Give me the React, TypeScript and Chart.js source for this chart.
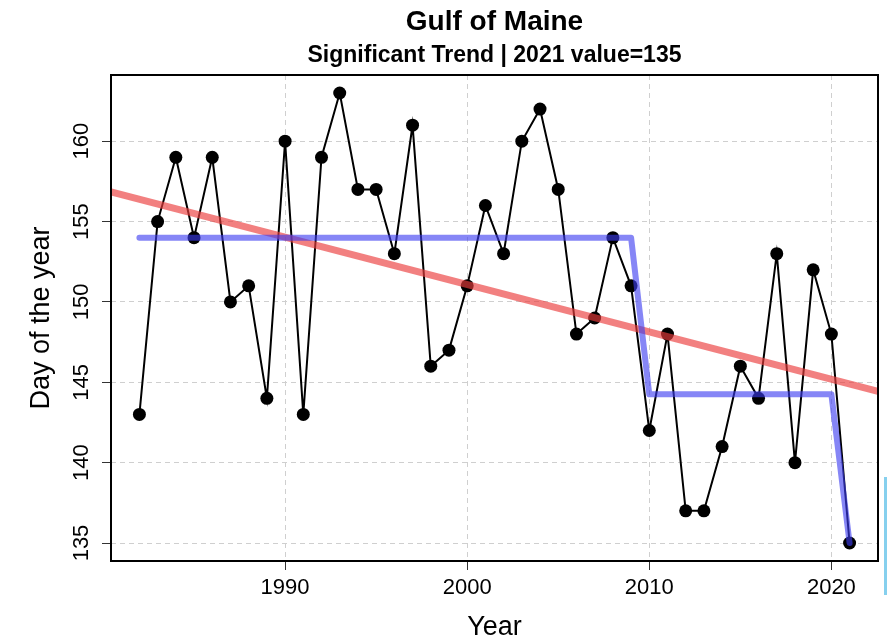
import React, { useEffect, useRef } from "react";
import { Chart, registerables } from "chart.js";

Chart.register(...registerables);

// ---- Data ----
const years = [
  1982, 1983, 1984, 1985, 1986, 1987, 1988, 1989, 1990, 1991,
  1992, 1993, 1994, 1995, 1996, 1997, 1998, 1999, 2000, 2001,
  2002, 2003, 2004, 2005, 2006, 2007, 2008, 2009, 2010, 2011,
  2012, 2013, 2014, 2015, 2016, 2017, 2018, 2019, 2020, 2021,
];
const dayOfYear = [
  143, 155, 159, 154, 159, 150, 151, 144, 160, 143,
  159, 163, 157, 157, 153, 161, 146, 147, 151, 156,
  153, 160, 162, 157, 148, 149, 154, 151, 142, 148,
  137, 137, 141, 146, 144, 153, 140, 152, 148, 135,
];
// regime (step) means
const stepYears = [1982, 2009, 2010, 2020, 2021];
const stepValues = [154, 154, 144.25, 144.25, 135];
// linear trend line, value at each edge of the plot
const trendYears = [1980.44, 2022.56];
const trendValues = [156.84, 144.44];

const xTicks = [1990, 2000, 2010, 2020];
const yTicks = [135, 140, 145, 150, 155, 160];
const xMin = 1980.44;
const xMax = 2022.56;
const yMin = 133.88;
const yMax = 164.12;

const titleText = "Gulf of Maine";
const subtitleText = "Significant Trend | 2021 value=135";
const xTitle = "Year";
const yTitle = "Day of the year";

const FONT = "'Liberation Sans', Arial, Helvetica, sans-serif";

const framePlugin = {
  id: "frame",
  afterDraw(chart: any) {
    const { ctx, chartArea } = chart;
    const { left, top, right, bottom } = chartArea;
    ctx.save();
    ctx.strokeStyle = "#000";
    ctx.lineWidth = 2;
    ctx.strokeRect(left, top, right - left, bottom - top);
    ctx.restore();
  },
};

export default function App() {
  const ref = useRef<HTMLCanvasElement | null>(null);

  useEffect(() => {
    if (!ref.current) return;
    const gridOpts = {
      color: "#cfcfcf",
      lineWidth: 1,
      tickLength: 9,
      tickColor: "#333",
      tickWidth: 1,
    };
    const chart = new Chart(ref.current, {
      type: "line",
      data: {
        datasets: [
          {
            label: "step",
            data: stepYears.map((x, i) => ({ x, y: stepValues[i] })),
            borderColor: "rgba(60,60,240,0.62)",
            borderWidth: 6,
            borderCapStyle: "round",
            borderJoinStyle: "round",
            pointRadius: 0,
            tension: 0,
            order: 1,
          },
          {
            label: "trend",
            data: trendYears.map((x, i) => ({ x, y: trendValues[i] })),
            borderColor: "rgba(235,60,60,0.65)",
            borderWidth: 7,
            pointRadius: 0,
            tension: 0,
            order: 2,
          },
          {
            label: "Day of the year",
            data: years.map((x, i) => ({ x, y: dayOfYear[i] })),
            borderColor: "#000",
            borderWidth: 2,
            pointRadius: 6.5,
            pointBackgroundColor: "#000",
            pointBorderWidth: 0,
            tension: 0,
            order: 3,
          },
        ],
      },
      options: {
        responsive: false,
        animation: false,
        layout: { padding: { left: 0, right: 11, top: 0, bottom: 0 } },
        plugins: {
          legend: { display: false },
          tooltip: { enabled: false },
          title: {
            display: true,
            text: titleText,
            fullSize: false,
            color: "#000",
            font: { family: FONT, size: 28, weight: "bold", lineHeight: 1 },
            padding: { top: 8, bottom: 4 },
          },
          subtitle: {
            display: true,
            text: subtitleText,
            fullSize: false,
            color: "#000",
            font: { family: FONT, size: 23, weight: "bold", lineHeight: 1 },
            padding: { top: 4, bottom: 8 },
          },
        },
        scales: {
          x: {
            type: "linear",
            min: xMin,
            max: xMax,
            afterBuildTicks: (s: any) => {
              s.ticks = xTicks.map((v) => ({ value: v }));
            },
            afterFit: (s: any) => {
              s.height = 81;
            },
            grid: gridOpts,
            border: { display: false, dash: [5, 4] },
            ticks: {
              color: "#000",
              font: { family: FONT, size: 22 },
              padding: 5,
              minRotation: 0,
              maxRotation: 0,
              callback: (v: any) => String(v),
            },
            title: {
              display: true,
              text: xTitle,
              color: "#000",
              font: { family: FONT, size: 27, lineHeight: 1 },
              padding: { top: 0, bottom: 1 },
            },
          },
          y: {
            type: "linear",
            min: yMin,
            max: yMax,
            afterBuildTicks: (s: any) => {
              s.ticks = yTicks.map((v) => ({ value: v }));
            },
            afterFit: (s: any) => {
              s.width = 111;
            },
            grid: gridOpts,
            border: { display: false, dash: [5, 4] },
            ticks: {
              color: "#000",
              font: { family: FONT, size: 22 },
              padding: 2,
              minRotation: 90,
              maxRotation: 90,
              crossAlign: "center",
              callback: (v: any) => String(v),
            },
            title: {
              display: true,
              text: yTitle,
              color: "#000",
              font: { family: FONT, size: 27, lineHeight: 1 },
              padding: { top: 28, bottom: 0 },
            },
          },
        },
      } as any,
      plugins: [framePlugin],
    });
    return () => chart.destroy();
  }, []);

  return (
    <div
      style={{
        position: "absolute",
        left: 0,
        top: 0,
        width: 889,
        height: 642,
        background: "#fff",
      }}
    >
      <canvas ref={ref} width={889} height={642} style={{ display: "block" }} />
      <div
        style={{
          position: "absolute",
          left: 884,
          top: 477,
          width: 3,
          height: 118,
          background: "#86d0ee",
        }}
      />
    </div>
  );
}
